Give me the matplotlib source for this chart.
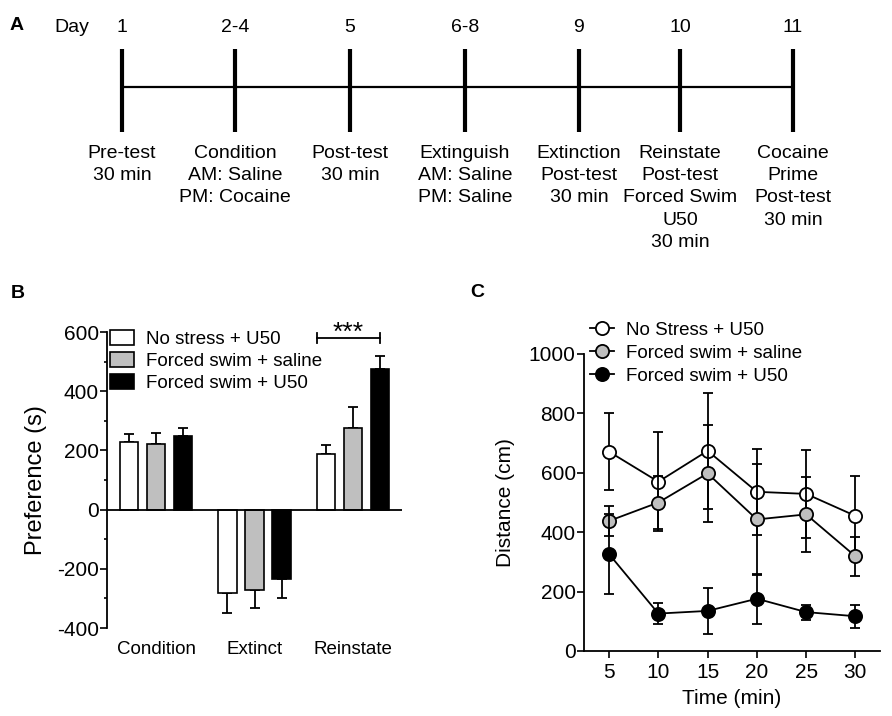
import numpy as np
import matplotlib
matplotlib.use('Agg')
import matplotlib.pyplot as plt
from matplotlib.ticker import MultipleLocator

plt.rcParams['font.family'] = ['Liberation Sans', 'DejaVu Sans']
plt.rcParams['axes.unicode_minus'] = False

# ---- panel A: timeline
days = ['1', '2-4', '5', '6-8', '9', '10', '11']
steps = ['Pre-test\n30 min',
         'Condition\nAM: Saline\nPM: Cocaine',
         'Post-test\n30 min',
         'Extinguish\nAM: Saline\nPM: Saline',
         'Extinction\nPost-test\n30 min',
         'Reinstate\nPost-test\nForced Swim\nU50\n30 min',
         'Cocaine\nPrime\nPost-test\n30 min']

# ---- panel B: preference (s), mean and sem
phases = ['Condition', 'Extinct', 'Reinstate']
b_groups = ['No stress + U50', 'Forced swim + saline', 'Forced swim + U50']
pref_nostress = [230, -281, 188]
pref_swim_sal = [220, -270, 275]
pref_swim_u50 = [249, -233, 476]
sem_nostress = [27, 70, 29]
sem_swim_sal = [40, 64, 71]
sem_swim_u50 = [25, 65, 42]

# ---- panel C: distance (cm) over time
times = [5, 10, 15, 20, 25, 30]
c_groups = ['No Stress + U50', 'Forced swim + saline', 'Forced swim + U50']
dist_nostress = [671, 570, 674, 536, 529, 455]
dist_swim_sal = [438, 500, 598, 443, 460, 319]
dist_swim_u50 = [326, 126, 135, 176, 131, 117]
err_nostress = [129, 167, 196, 144, 147, 135]
err_swim_sal = [50, 90, 163, 186, 127, 65]
err_swim_u50 = [135, 35, 78, 84, 25, 39]

colors = ['white', '#bfbfbf', 'black']

fig = plt.figure(figsize=(8.92, 7.16), dpi=100)

# panel A drawn in pixel coords
ax_a = fig.add_axes([0, 1 - 260 / 716, 1, 260 / 716])
ax_a.set_xlim(0, 892)
ax_a.set_ylim(260, 0)
ax_a.axis('off')
a_x = [122, 235, 350, 465, 579, 680, 793]
ax_a.plot([a_x[0], a_x[-1]], [87, 87], color='black', lw=1.6)
for x, d, s in zip(a_x, days, steps):
    ax_a.plot([x, x], [49, 132], color='black', lw=3, solid_capstyle='butt')
    ax_a.text(x, 28, d, ha='center', va='center', fontsize=14)
    ax_a.text(x, 145, s, ha='center', va='top', fontsize=14, linespacing=1.4)
ax_a.text(72, 28, 'Day', ha='center', va='center', fontsize=14)
ax_a.text(17, 25, 'A', ha='center', va='center', fontsize=14, fontweight='bold')

# panel B
ax_b = fig.add_axes([107 / 892, 1 - 628 / 716, (402 - 107) / 892, (628 - 332) / 716])
x = np.arange(len(phases))
off = 0.275
w = 0.188
b_means = [pref_nostress, pref_swim_sal, pref_swim_u50]
b_sems = [sem_nostress, sem_swim_sal, sem_swim_u50]
for i in range(3):
    m = np.array(b_means[i])
    e = np.array(b_sems[i])
    lo = np.where(m < 0, e, 0)
    hi = np.where(m >= 0, e, 0)
    ax_b.bar(x + (i - 1) * off, m, width=w, color=colors[i], edgecolor='black',
             linewidth=1.2, label=b_groups[i], zorder=2)
    ax_b.errorbar(x + (i - 1) * off, m, yerr=[lo, hi], fmt='none', ecolor='black',
                  elinewidth=1.3, capsize=3.5, capthick=1.3, zorder=1)
ax_b.axhline(0, color='black', lw=1.3, zorder=3)
ax_b.set_xlim(-0.5, 2.5)
ax_b.set_ylim(-400, 600)
ax_b.set_yticks([-400, -200, 0, 200, 400, 600])
ax_b.yaxis.set_minor_locator(MultipleLocator(100))
ax_b.set_xticks(x)
ax_b.set_xticklabels(phases, fontsize=13.5)
ax_b.tick_params(axis='x', length=0, pad=9)
ax_b.tick_params(axis='y', which='major', length=5, width=1.2, pad=1, labelsize=15)
ax_b.tick_params(axis='y', which='minor', length=2.5, width=1.2)
for sp in ['top', 'right', 'bottom']:
    ax_b.spines[sp].set_visible(False)
ax_b.spines['left'].set_linewidth(1.3)
ax_b.set_ylabel('Preference (s)', fontsize=17, labelpad=7)
# significance bracket
bx0 = x[2] - off - w / 2
bx1 = x[2] + off
ax_b.plot([bx0, bx1], [580, 580], color='black', lw=1.3)
ax_b.plot([bx0, bx0], [563, 597], color='black', lw=1.3)
ax_b.plot([bx1, bx1], [563, 597], color='black', lw=1.3)
ax_b.text((bx0 + bx1) / 2, 572, '***', ha='center', va='baseline', fontsize=19)
ax_b.legend(loc='upper left', bbox_to_anchor=(0.01, 1.008), frameon=False,
            fontsize=13.5, handlelength=1.3, handleheight=0.9, handletextpad=0.6,
            labelspacing=0.2, borderpad=0, borderaxespad=0)
fig.text(18 / 892, 1 - 293 / 716, 'B', ha='center', va='center', fontsize=14, fontweight='bold')

# panel C
ax_c = fig.add_axes([584 / 892, 1 - 651 / 716, (880 - 584) / 892, (651 - 354) / 716])
c_means = [dist_nostress, dist_swim_sal, dist_swim_u50]
c_errs = [err_nostress, err_swim_sal, err_swim_u50]
for i in range(3):
    ax_c.errorbar(times, c_means[i], yerr=c_errs[i], color='black', lw=1.3,
                  elinewidth=1.3, capsize=3.5, capthick=1.3, marker='o', ms=9.5,
                  mfc=colors[i], mec='black', mew=1.3, label=c_groups[i], zorder=3 + i)
ax_c.set_xlim(2.45, 32.5)
ax_c.set_ylim(0, 1000)
ax_c.set_xticks(times)
ax_c.set_yticks(range(0, 1001, 200))
ax_c.tick_params(axis='both', length=5, width=1.2, labelsize=15)
ax_c.tick_params(axis='y', pad=1)
ax_c.tick_params(axis='x', pad=4)
for sp in ['top', 'right']:
    ax_c.spines[sp].set_visible(False)
for sp in ['left', 'bottom']:
    ax_c.spines[sp].set_linewidth(1.3)
ax_c.set_ylabel('Distance (cm)', fontsize=15, labelpad=10)
ax_c.set_xlabel('Time (min)', fontsize=15, labelpad=5)
h, l = ax_c.get_legend_handles_labels()
h = [hh[0] for hh in h]
ax_c.legend(h, l, loc='upper left', bbox_to_anchor=(0.02, 1.108), frameon=False,
            fontsize=13.5, handlelength=1.3, handletextpad=0.6, labelspacing=0.31,
            borderpad=0, borderaxespad=0)
fig.text(477 / 892, 1 - 292 / 716, 'C', ha='center', va='center', fontsize=14, fontweight='bold')

fig.savefig('out.png', dpi=100)
